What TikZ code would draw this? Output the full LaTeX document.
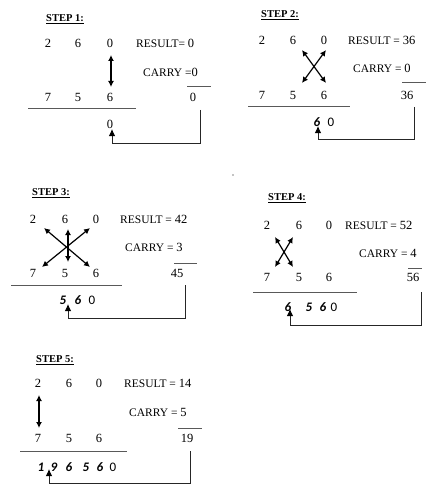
\documentclass[tikz,border=0pt]{standalone}
\usepackage{fontspec}
\setmainfont{Liberation Serif}
\newfontfamily\calib{Carlito}
\usetikzlibrary{arrows.meta}
\newcommand\numsz{\fontsize{12.5}{14}\selectfont}
\newcommand\wordsz{\fontsize{11.5}{13}\selectfont}
\begin{document}
\begin{tikzpicture}[x=1pt,y=-1pt,
  dg/.style={inner sep=0pt, font=\numsz},
  lb/.style={inner sep=0pt, anchor=west, font=\wordsz},
  ttl/.style={inner sep=0pt, font=\bfseries\fontsize{10.5}{12}\selectfont},
  rd/.style={inner sep=0pt, font=\calib\bfseries\itshape\fontsize{13}{15}\selectfont},
  rz/.style={inner sep=0pt, font=\calib\fontsize{13}{15}\selectfont},
  dbl/.style={{Latex[length=6pt,width=6pt]}-{Latex[length=6pt,width=6pt]}, line width=1.2pt},
  rule/.style={draw=black!65, line width=1pt},
  route/.style={draw=black!85, line width=0.9pt, -{Latex[length=7pt,width=6.5pt,fill=black,color=black]}}]
\useasboundingbox (0,0) rectangle (426,484);

% ---------- STEP 1 ----------
\node[ttl] (t1) at (65,19) {\underline{STEP 1:}};
\node[dg] (a11) at (48,43) {2};
\node[dg] (a12) at (78,43) {6};
\node[dg] (a13) at (110,43) {0};
\node[lb] (r1) at (136,43) {RESULT= {\numsz 0}};
\node[lb] (c1) at (143,72) {CARRY ={\numsz 0}};
\node[dg] (b11) at (48,97) {7};
\node[dg] (b12) at (78,97) {5};
\node[dg] (b13) at (110,97) {6};
\node[dg] (s1) at (193,97) {0};
\coordinate (s1l) at (187,87); \coordinate (s1r) at (211,87);
\draw[rule] (s1l) -- (s1r);
\coordinate (l1a) at (28,109); \coordinate (l1b) at (136,109);
\draw[rule] (l1a) -- (l1b);
\node[dg] (p1) at (110,124) {0};
\coordinate (d1a) at (111,55); \coordinate (d1b) at (111,87);
\draw[dbl] (d1a) -- (d1b);
\coordinate (q1a) at (200,110); \coordinate (q1b) at (112,143); \coordinate (q1c) at (112,129);
\draw[route] (q1a) |- (q1b) -- (q1c);

% ---------- STEP 2 ----------
\node[ttl] (t2) at (280,15) {\underline{STEP 2:}};
\node[dg] (a21) at (262,40) {2};
\node[dg] (a22) at (293,40) {6};
\node[dg] (a23) at (324,40) {0};
\node[lb] (r2) at (348,40) {RESULT = {\numsz 36}};
\node[lb] (c2) at (353,68) {CARRY = {\numsz 0}};
\node[dg] (b21) at (262,95) {7};
\node[dg] (b22) at (293,95) {5};
\node[dg] (b23) at (324,95) {6};
\node[dg] (s2) at (407,95) {36};
\coordinate (s2l) at (402,83); \coordinate (s2r) at (426,83);
\draw[rule] (s2l) -- (s2r);
\coordinate (l2a) at (248,107); \coordinate (l2b) at (350,107);
\draw[rule] (l2a) -- (l2b);
\node[rd] (p21) at (317,122) {6};
\node[rz] (p22) at (331,122) {0};
\coordinate (x2a) at (302,50); \coordinate (x2b) at (326,83);
\coordinate (x2c) at (326,50); \coordinate (x2d) at (302,83);
\draw[dbl] (x2a) -- (x2b);
\draw[dbl] (x2c) -- (x2d);
\coordinate (q2a) at (414,107); \coordinate (q2b) at (318,139); \coordinate (q2c) at (318,126);
\draw[route] (q2a) |- (q2b) -- (q2c);

% ---------- STEP 3 ----------
\node[ttl] (t3) at (51,193) {\underline{STEP 3:}};
\node[dg] (a31) at (33,219) {2};
\node[dg] (a32) at (65,219) {6};
\node[dg] (a33) at (96,219) {0};
\node[lb] (r3) at (120,219) {RESULT = {\numsz 42}};
\node[lb] (c3) at (125,247) {CARRY = {\numsz 3}};
\node[dg] (b31) at (33,273) {7};
\node[dg] (b32) at (65,273) {5};
\node[dg] (b33) at (96,273) {6};
\node[dg] (s3) at (177,273) {45};
\coordinate (s3l) at (174,263); \coordinate (s3r) at (197,263);
\draw[rule] (s3l) -- (s3r);
\coordinate (l3a) at (11,285); \coordinate (l3b) at (122,285);
\draw[rule] (l3a) -- (l3b);
\node[rd] (p31) at (63,300) {5};
\node[rd] (p32) at (78,300) {6};
\node[rz] (p33) at (92,300) {0};
\coordinate (x3a) at (44,228); \coordinate (x3b) at (90,267);
\coordinate (x3c) at (90,228); \coordinate (x3d) at (42,267);
\coordinate (x3e) at (68,229); \coordinate (x3f) at (68,262);
\draw[dbl] (x3a) -- (x3b);
\draw[dbl] (x3c) -- (x3d);
\draw[dbl] (x3e) -- (x3f);
\coordinate (q3a) at (185,285); \coordinate (q3b) at (68,318); \coordinate (q3c) at (68,304);
\draw[route] (q3a) |- (q3b) -- (q3c);

% ---------- STEP 4 ----------
\fill (233,175) circle (0.7pt);
\node[ttl] (t4) at (287,198) {\underline{STEP 4:}};
\node[dg] (a41) at (267,225) {2};
\node[dg] (a42) at (299,225) {6};
\node[dg] (a43) at (329,225) {0};
\node[lb] (r4) at (345,225) {RESULT = {\numsz 52}};
\node[lb] (c4) at (359,253) {CARRY = {\numsz 4}};
\node[dg] (b41) at (267,277) {7};
\node[dg] (b42) at (299,277) {5};
\node[dg] (b43) at (329,277) {6};
\node[dg] (s4) at (413,277) {56};
\coordinate (s4l) at (408,268); \coordinate (s4r) at (422,268);
\draw[rule] (s4l) -- (s4r);
\coordinate (l4a) at (253,292); \coordinate (l4b) at (357,292);
\draw[rule] (l4a) -- (l4b);
\node[rd] (p41) at (288,307) {6};
\node[rd] (p42) at (309,307) {5};
\node[rd] (p43) at (323,307) {6};
\node[rz] (p44) at (334,307) {0};
\coordinate (x4a) at (275,237); \coordinate (x4b) at (293,267);
\coordinate (x4c) at (293,237); \coordinate (x4d) at (275,267);
\draw[dbl] (x4a) -- (x4b);
\draw[dbl] (x4c) -- (x4d);
\coordinate (q4a) at (421,292); \coordinate (q4b) at (290,325); \coordinate (q4c) at (290,309);
\draw[route] (q4a) |- (q4b) -- (q4c);

% ---------- STEP 5 ----------
\node[ttl] (t5) at (55,360) {\underline{STEP 5:}};
\node[dg] (a51) at (38,383) {2};
\node[dg] (a52) at (69,383) {6};
\node[dg] (a53) at (99,383) {0};
\node[lb] (r5) at (124,383) {RESULT = {\numsz 14}};
\node[lb] (c5) at (129,412) {CARRY = {\numsz 5}};
\node[dg] (b51) at (38,438) {7};
\node[dg] (b52) at (69,438) {5};
\node[dg] (b53) at (99,438) {6};
\node[dg] (s5) at (187,438) {19};
\coordinate (s5l) at (178,428); \coordinate (s5r) at (202,428);
\draw[rule] (s5l) -- (s5r);
\coordinate (l5a) at (20,451); \coordinate (l5b) at (127,451);
\draw[rule] (l5a) -- (l5b);
\node[rd] (p51) at (41,467) {1};
\node[rd] (p52) at (54,467) {9};
\node[rd] (p53) at (69,467) {6};
\node[rd] (p54) at (86,467) {5};
\node[rd] (p55) at (100,467) {6};
\node[rz] (p56) at (113,467) {0};
\coordinate (d5a) at (39,395); \coordinate (d5b) at (39,428);
\draw[dbl] (d5a) -- (d5b);
\coordinate (q5a) at (190,451); \coordinate (q5b) at (49,483.5); \coordinate (q5c) at (49,469);
\draw[route] (q5a) |- (q5b) -- (q5c);
\end{tikzpicture}
\end{document}
